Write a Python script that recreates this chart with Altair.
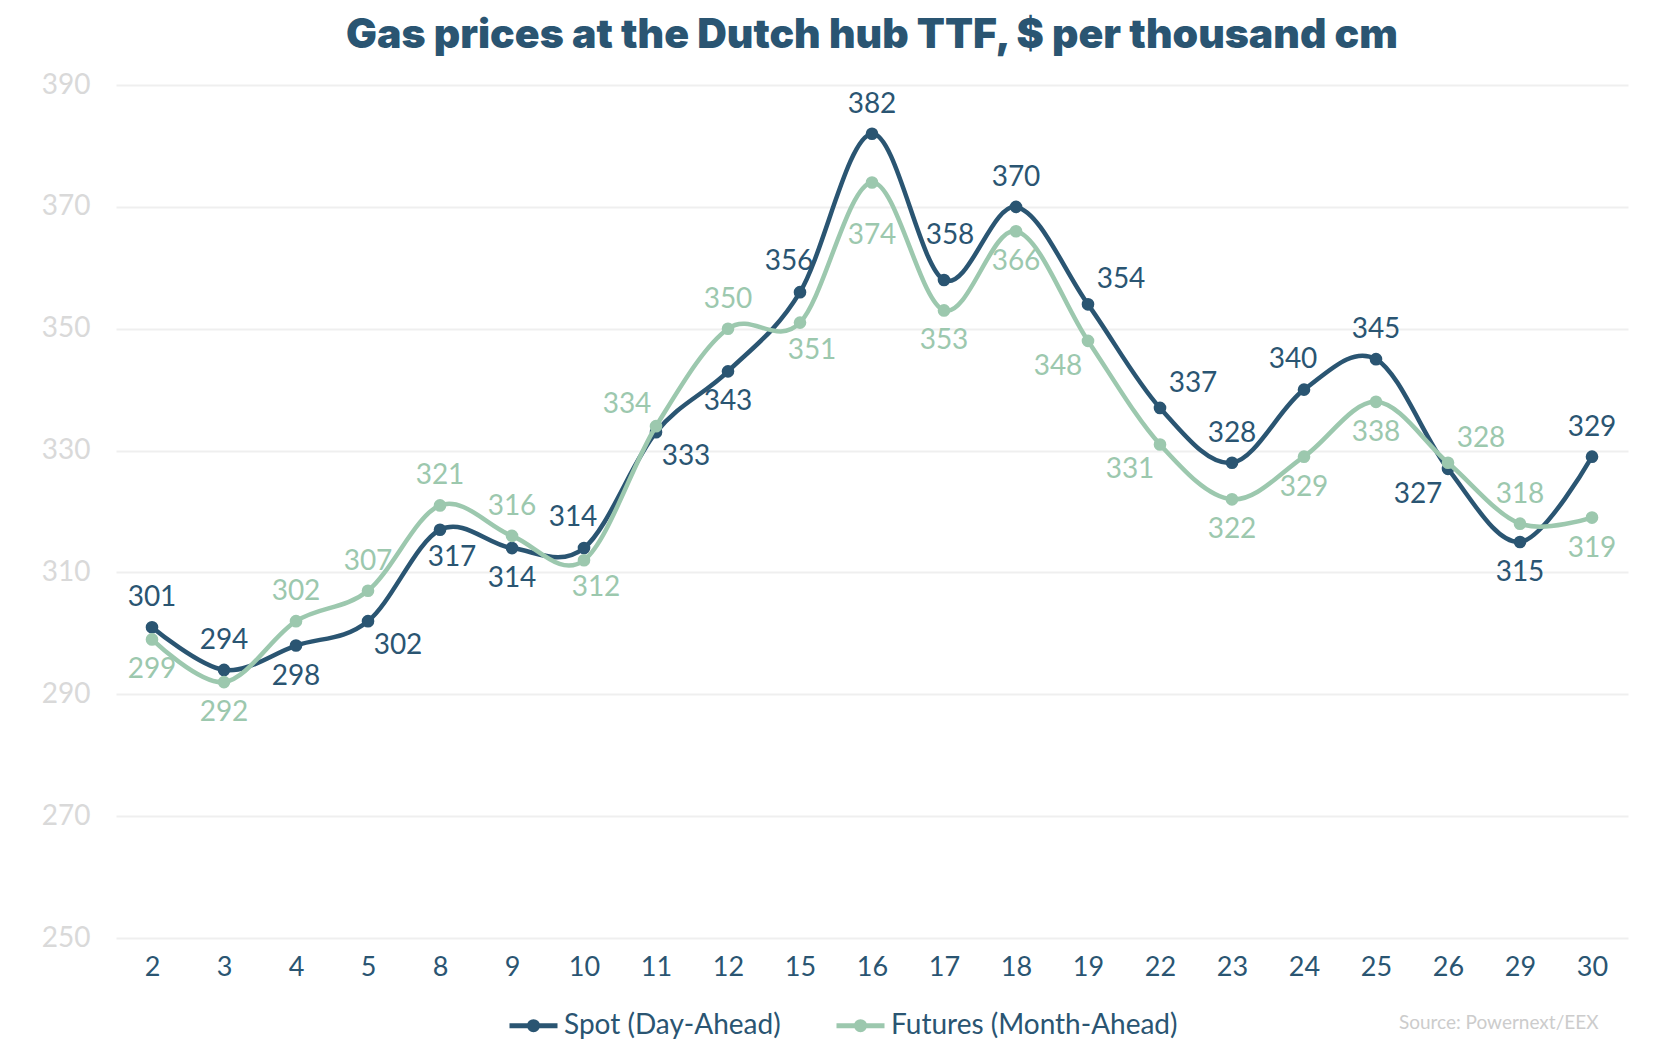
import altair as alt
import pandas as pd

# ---- data ----
days = ["2", "3", "4", "5", "8", "9", "10", "11", "12", "15", "16",
        "17", "18", "19", "22", "23", "24", "25", "26", "29", "30"]
spot = [301, 294, 298, 302, 317, 314, 314, 333, 343, 356, 382,
        358, 370, 354, 337, 328, 340, 345, 327, 315, 329]
futures = [299, 292, 302, 307, 321, 316, 312, 334, 350, 351, 374,
           353, 366, 348, 331, 322, 329, 338, 328, 318, 319]
series_names = ["Spot (Day-Ahead)", "Futures (Month-Ahead)"]
y_ticks = [250, 270, 290, 310, 330, 350, 370, 390]

# which side of its point each value label sits on
spot_side = ["N", "N", "S", "SE", "Sr", "S", "Nl", "SE", "S", "Nl", "N",
             "NN", "N", "NE", "NE", "N", "Nl", "N", "SW", "S", "N"]
fut_side = ["S", "S", "N", "N", "N", "N", "Sr", "NW", "N", "Sr", "SS",
            "S", "S", "SW", "SW", "S", "S", "S", "NE", "N", "S"]

# ---- styling ----
DARK = "#2a5572"
LIGHT = "#9cc8ae"
FONT = "Lato"
side_offsets = {
    "N": (0, -29), "Nl": (-11, -30), "NN": (6, -44),
    "S": (0, 31), "Sr": (12, 28), "SS": (0, 54),
    "NE": (33, -24), "SE": (30, 25), "SW": (-30, 26), "NW": (-29, -21),
}

rows = []
for name, vals, sides in [(series_names[0], spot, spot_side),
                          (series_names[1], futures, fut_side)]:
    for d, v, s in zip(days, vals, sides):
        rows.append({"series": name, "day": d, "value": v, "side": s})
df = pd.DataFrame(rows)

color_scale = alt.Scale(domain=series_names, range=[DARK, LIGHT])
x_enc = alt.X(
    "day:O", sort=days,
    scale=alt.Scale(type="point", padding=0.5),
    axis=alt.Axis(
        title="Source: Powernext/EEX", titleFont=FONT, titleFontSize=19,
        titleFontWeight="normal", titleColor="#cccccc", titleAnchor="end",
        titleAlign="right", titleBaseline="middle", titleX=1482, titleY=84,
        labelAngle=0, labelFont=FONT, labelFontSize=27, labelColor=DARK,
        labelPadding=16, ticks=False, tickSize=0, domain=False, grid=False,
    ),
)
y_enc = alt.Y(
    "value:Q",
    scale=alt.Scale(domain=[250, 390], nice=False, zero=False),
    axis=alt.Axis(
        title=None, values=y_ticks, labelFont=FONT, labelFontSize=28,
        labelColor="#d9d9d9", labelPadding=26, ticks=False, tickSize=0,
        domain=False, grid=True, gridColor="#efefef", gridWidth=2,
    ),
)

legend_symbol = ("M-1,0L1,0M-0.17,0a0.17,0.17 0 1,0 0.34,0"
                 "a0.17,0.17 0 1,0 -0.34,0")
legend = alt.Legend(
    orient="none", legendX=391, legendY=914, direction="horizontal",
    title=None, symbolType=legend_symbol, symbolSize=2304,
    symbolStrokeWidth=5, labelFont=FONT, labelFontSize=28, labelColor=DARK,
    labelOffset=4, columnPadding=45, labelLimit=0,
)

base = alt.Chart(df)
layers = []
for i, name in enumerate(series_names):
    sub = base.transform_filter(alt.datum.series == name)
    layers.append(
        sub.mark_line(interpolate="cardinal", strokeWidth=4.5).encode(
            x=x_enc, y=y_enc,
            color=alt.Color("series:N", scale=color_scale,
                            legend=legend if i == 0 else None),
        )
    )
    layers.append(
        sub.mark_circle(size=160, opacity=1).encode(
            x=x_enc, y=y_enc,
            color=alt.Color("series:N", scale=color_scale, legend=None),
        )
    )

for code, (dx, dy) in side_offsets.items():
    layers.append(
        base.transform_filter(alt.datum.side == code)
        .mark_text(font=FONT, fontSize=28, dx=dx, dy=dy,
                   align="center", baseline="middle")
        .encode(
            x=x_enc, y=y_enc, text=alt.Text("value:Q"),
            color=alt.Color("series:N", scale=color_scale, legend=None),
        )
    )

chart = (
    alt.layer(*layers)
    .properties(
        width=1512, height=853,
        padding={"left": 108, "top": 77, "right": 26, "bottom": 110},
        autosize=alt.AutoSizeParams(type="none"),
        title=alt.TitleParams(
            "Gas prices at the Dutch hub TTF, $ per thousand cm",
            font="Inter", fontSize=41, fontWeight=900, color=DARK,
            anchor="middle", offset=14,
        ),
    )
    .configure_view(stroke=None)
)

chart.save("out.html", embed_options={"renderer": "svg", "actions": False})
